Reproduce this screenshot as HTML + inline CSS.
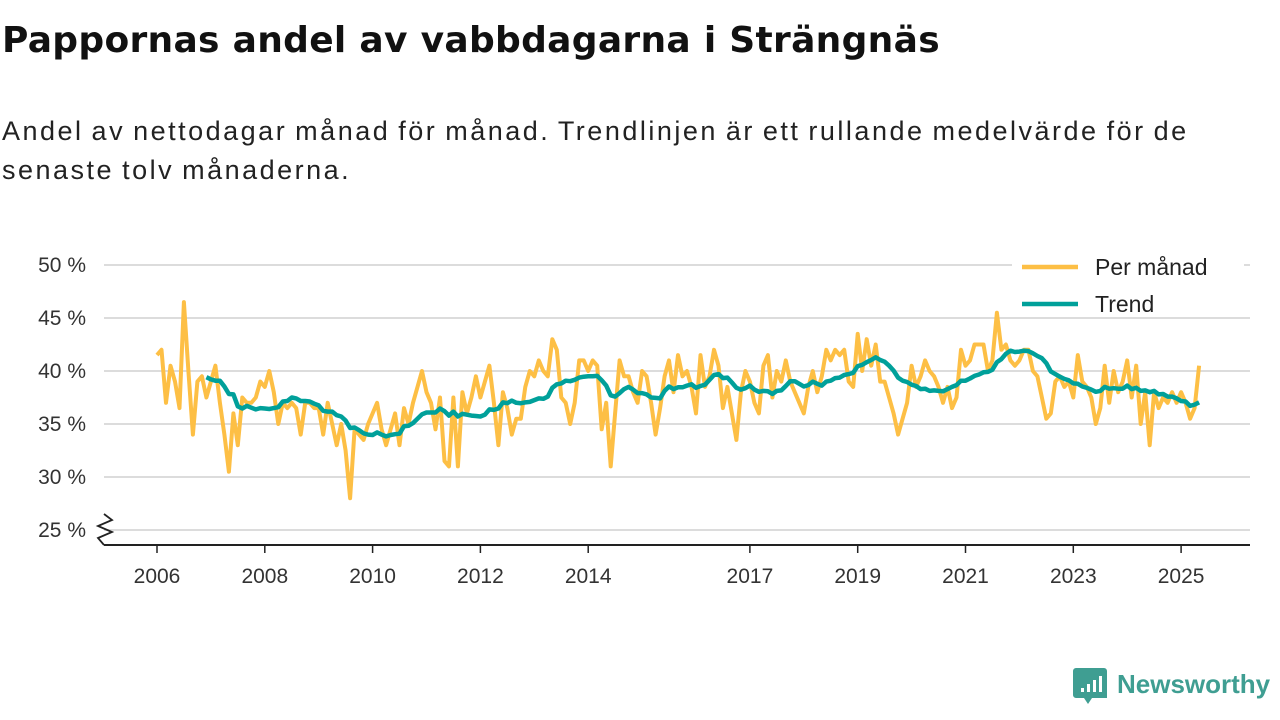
<!DOCTYPE html>
<html><head><meta charset="utf-8">
<style>
body{margin:0;width:1280px;height:720px;background:#fff;font-family:"Liberation Sans","DejaVu Sans",sans-serif;overflow:hidden}
h1{position:absolute;left:2px;top:20px;margin:0;font-family:"DejaVu Sans",sans-serif;font-size:36px;font-weight:bold;color:#111;white-space:nowrap;letter-spacing:0.3px}
p{position:absolute;left:2px;top:112px;margin:0;font-size:27px;line-height:39px;color:#222;width:1240px;letter-spacing:2.5px;word-spacing:-2px}
svg{position:absolute;left:0;top:0}
</style></head><body>
<h1>Pappornas andel av vabbdagarna i Strängnäs</h1>
<p>Andel av nettodagar månad för månad. Trendlinjen är ett rullande medelvärde för de<br>senaste tolv månaderna.</p>
<svg id="chart" width="1280" height="720"></svg>
<script>
const yTicks=[25,30,35,40,45,50];
const xTickYears=[2006,2008,2010,2012,2014,2017,2019,2021,2023,2025];
const startYear=2006;
const monthly=[
41.5,42,37,40.5,39,36.5,46.5,40,34,39,39.5,37.5,
39,40.5,37,34,30.5,36,33,37.5,37,37,37.5,39,
38.5,40,38,35,37,36.5,37,36.5,34,37,37,36.5,
36.5,34,37,35,33,35,32.5,28,34.5,34,33.5,35,
36,37,34.5,33,34.5,36,33,36.5,35,37,38.5,40,
38,37,34.5,37.5,31.5,31,37.5,31,38,36,37.5,39.5,
37.5,39,40.5,37,33,38,36.5,34,35.5,35.5,38.5,40,
39.5,41,40,39.5,43,42,37.5,37,35,37,41,41,
40,41,40.5,34.5,37,31,36,41,39.5,39.5,38,37,
40,39.5,37,34,36.5,39.5,41,38,41.5,39.5,40,38.5,
36,41.5,38.5,39.5,42,40.5,36.5,38.5,36,33.5,38,40,
39,37,36,40.5,41.5,37.5,40,39,41,39,38,37,
36,38.5,40,38,39.5,42,41,42,41.5,42,39,38.5,
43.5,40,43,40.5,42.5,39,39,37.5,36,34,35.5,37,
40.5,38.5,39.5,41,40,39.5,38.5,37,38.5,36.5,37.5,42,
40.5,41,42.5,42.5,42.5,40,41,45.5,42,42.5,41,40.5,
41,42,42,40,39.5,37.5,35.5,36,39,39.5,38.5,39,
37.5,41.5,39,38.5,37.5,35,36.5,40.5,37,40,38,39,
41,37.5,40.5,35,38,33,38,36.5,37.5,37,38,37,
38,37,35.5,36.5,40.5];
const trendWindow=12;
const NS="http://www.w3.org/2000/svg";
const svg=document.getElementById('chart');
const X=m=>157+m*(53.9/12);
const Y=v=>265+(50-v)*10.6;
function el(t,a){const e=document.createElementNS(NS,t);for(const k in a)e.setAttribute(k,a[k]);svg.appendChild(e);return e;}
yTicks.forEach(v=>{
  const g=el('line',{x1:104,x2:1250,y1:Y(v),y2:Y(v),stroke:'#dcdcdc','stroke-width':2});
  
  
  const t=el('text',{x:86,y:Y(v)+7,'text-anchor':'end','font-size':21,fill:'#333'});
  t.textContent=v+' %';
  
  
});
const br=el('path',{d:'M104,514 L112,520 L98,526 L112,532 L98,538 L104,545',fill:'none',stroke:'#222','stroke-width':1.8});


const ax=el('line',{x1:104,x2:1250,y1:545,y2:545,stroke:'#222','stroke-width':2});


xTickYears.forEach(yr=>{
  const x=X((yr-startYear)*12);
  const tk=el('line',{x1:x,x2:x,y1:545,y2:553,stroke:'#222','stroke-width':1.5});
  
  
  const t=el('text',{x:x,y:583,'text-anchor':'middle','font-size':21,fill:'#333'});
  t.textContent=yr;
  
  
});
const mp=monthly.map((v,i)=>X(i).toFixed(1)+','+Y(v).toFixed(1)).join(' ');
const ml=el('polyline',{points:mp,fill:'none',stroke:'#fdbf45','stroke-width':4,'stroke-linejoin':'round'});


const tp=[];
for(let i=trendWindow-1;i<monthly.length;i++){let s=0;for(let j=i-trendWindow+1;j<=i;j++)s+=monthly[j];tp.push(X(i).toFixed(1)+','+Y(s/trendWindow).toFixed(1));}
const tl=el('polyline',{points:tp.join(' '),fill:'none',stroke:'#00a09a','stroke-width':4.5,'stroke-linejoin':'round'});


const lb=el('rect',{x:1012,y:247,width:232,height:70,fill:'#fff'});


[['Per månad','#fdbf45',267],['Trend','#00a09a',304]].forEach(([n,c,y])=>{
  const l=el('line',{x1:1022,x2:1078,y1:y,y2:y,stroke:c,'stroke-width':4.5});
  
  
  const t=el('text',{x:1095,y:y+8,'font-size':23,fill:'#222'});
  t.textContent=n;
  
  
});
const lg=el('path',{d:'M1076,668 h28 a3,3 0 0 1 3,3 v27 h-15 l-4,6 l-4,-6 h-8 a3,3 0 0 1 -3,-3 v-24 a3,3 0 0 1 3,-3z',fill:'#3f9e92'});


[[1081,688,6],[1087,684,10],[1093,680,14],[1099,676,18]].forEach(([x,y,h])=>{
  const b=el('rect',{x:x,y:y,width:3,height:h-2,fill:'#fff'});
  
  
});
const lt=el('text',{x:1117,y:693,'font-size':26,'font-weight':'bold',fill:'#3f9e92'});
lt.textContent='Newsworthy';


</script>
</body></html>
